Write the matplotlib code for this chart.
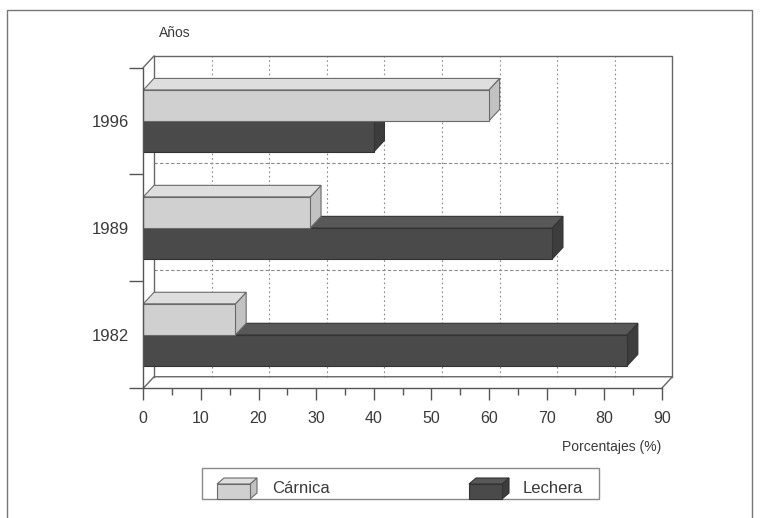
import matplotlib
matplotlib.use("Agg")
import matplotlib.pyplot as plt
from matplotlib.patches import Polygon, Rectangle
from matplotlib.lines import Line2D
import numpy as np

# data: share (%) of beef vs dairy herd per year
years = ["1996", "1989", "1982"]
carnica = [60, 29, 16]
lechera = [40, 71, 84]
x_ticks = list(range(0, 100, 10))
series_names = ["Cárnica", "Lechera"]

W, H = 764, 518
DX, DY = 1.86, 0.108      # 3d depth offset in data units
BAR_H = 0.29
XMAX = 90
NCAT = len(years)

COLS = {"Cárnica": ("#d0d0d0", "#dedede", "#c2c2c2"),
        "Lechera": ("#4a4a4a", "#585858", "#3d3d3d")}
EDGE = {"Cárnica": "#6a6a6a", "Lechera": "#333333"}
TXT = "#3a3a3a"
LINE = "#555555"

plt.rcParams["font.family"] = ["Liberation Sans", "DejaVu Sans"]

fig = plt.figure(figsize=(W / 100, H / 100), dpi=100)


def fx(px):
    return px / W


def fy(py):
    return 1 - py / H


ax = fig.add_axes([fx(143.3), fy(388.3), (661.7 - 143.3) / W, (388.3 - 67.5) / H])
ax.set_xlim(0, XMAX)
ax.set_ylim(0, NCAT)


def box3d(x0, y0, w, h, name, z):
    front, top, side = COLS[name]
    kw = dict(edgecolor=EDGE[name], linewidth=0.8, clip_on=False, zorder=z)
    ax.add_patch(Polygon([(x0 + w, y0), (x0 + w + DX, y0 + DY), (x0 + w + DX, y0 + h + DY),
                          (x0 + w, y0 + h)], facecolor=side, **kw))
    ax.add_patch(Polygon([(x0, y0 + h), (x0 + w, y0 + h), (x0 + w + DX, y0 + h + DY),
                          (x0 + DX, y0 + h + DY)], facecolor=top, **kw))
    ax.add_patch(Rectangle((x0, y0), w, h, facecolor=front, **kw))


# back wall + floor
wall = dict(color="#666666", lw=1.0, clip_on=False, zorder=1)
ax.plot([DX, DX, XMAX + DX, XMAX + DX], [DY, NCAT + DY, NCAT + DY, DY], **wall)
ax.plot([0, DX, XMAX + DX, XMAX], [0, DY, DY, 0], **wall)
ax.plot([0, DX], [NCAT, NCAT + DY], **wall)
for v in x_ticks[1:-1]:
    ax.plot([v + DX] * 2, [DY, NCAT + DY], color="#8a8a8a", lw=0.8,
            ls=(0, (1.5, 2.5)), clip_on=False, zorder=0.5)
for k in range(1, NCAT):
    ax.plot([DX, XMAX + DX], [k + DY] * 2, color="#8a8a8a", lw=0.8,
            ls=(0, (3, 2)), clip_on=False, zorder=0.5)

# bars: lechera first (lower), carnica on top of it
ypos = [NCAT - 1 - i + 0.5 for i in range(NCAT)]
for i, yc in enumerate(ypos):
    box3d(0, yc - BAR_H, lechera[i], BAR_H, "Lechera", 3 + i * 2)
    box3d(0, yc, carnica[i], BAR_H, "Cárnica", 4 + i * 2)

for s in ["top", "right"]:
    ax.spines[s].set_visible(False)
for s in ["left", "bottom"]:
    ax.spines[s].set_color(LINE)
    ax.spines[s].set_linewidth(1.0)
    ax.spines[s].set_zorder(10)

ax.set_xticks(x_ticks)
ax.set_xticks(np.arange(5, XMAX, 10), minor=True)
ax.tick_params(axis="x", which="major", length=8.6, width=1, color=LINE,
               labelsize=11.5, labelcolor=TXT, pad=8)
ax.tick_params(axis="x", which="minor", length=5, width=1, color=LINE)
ax.set_yticks(range(NCAT + 1))
ax.set_yticklabels([])
ax.set_yticks(ypos, minor=True)
ax.set_yticklabels(years, minor=True)
ax.tick_params(axis="y", which="major", length=10, width=1, color=LINE)
ax.tick_params(axis="y", which="minor", length=0, pad=10, labelsize=12, labelcolor=TXT)

ax.text(0.03, 1.1085, "Años", transform=ax.transAxes, ha="left", va="center",
        fontsize=10, color=TXT)
ax.text(XMAX, -0.183, "Porcentajes (%)", transform=ax.get_xaxis_transform(),
        ha="right", va="center", fontsize=10, color=TXT)

# outer frame (open at the bottom)
fig.add_artist(Line2D([fx(7), fx(7), fx(752), fx(752)], [fy(530), fy(10), fy(10), fy(530)],
                      transform=fig.transFigure, color="#777777", lw=1))

# legend box with small 3d swatches
fig.add_artist(Rectangle((fx(201.7), fy(499)), fx(599) - fx(201.7), fy(468) - fy(499),
                         transform=fig.transFigure, fill=False, edgecolor="#8a8a8a", lw=1))


def swatch(px, py, name):
    front, top, side = COLS[name]
    w, h, dx, dy = 33, 15, 7, 6
    kw = dict(transform=fig.transFigure, edgecolor=EDGE[name], lw=0.8)
    pts = lambda P: [(fx(a), fy(b)) for a, b in P]
    fig.add_artist(Polygon(pts([(px + w, py), (px + w + dx, py - dy), (px + w + dx, py + h - dy),
                                (px + w, py + h)]), facecolor=side, **kw))
    fig.add_artist(Polygon(pts([(px, py), (px + dx, py - dy), (px + w + dx, py - dy),
                                (px + w, py)]), facecolor=top, **kw))
    fig.add_artist(Polygon(pts([(px, py), (px + w, py), (px + w, py + h), (px, py + h)]),
                           facecolor=front, **kw))


for name, sx, tx in zip(series_names, [217, 469], [272, 523]):
    swatch(sx, 484, name)
    fig.text(fx(tx), fy(488.5), name, ha="left", va="center", fontsize=12, color=TXT)

fig.savefig("out.png", dpi=100)
